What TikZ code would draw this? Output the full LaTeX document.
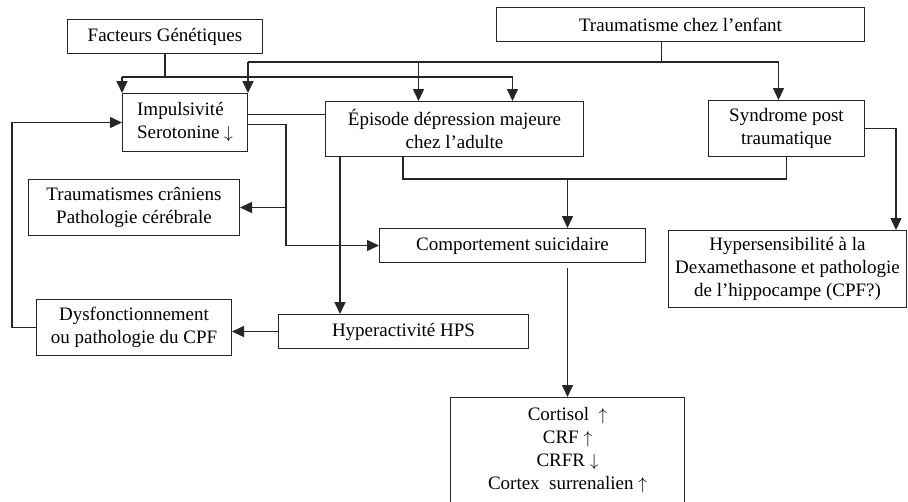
\documentclass[tikz,border=0pt]{standalone}
\usepackage{fontspec}
\setmainfont{Liberation Serif}
\usetikzlibrary{arrows.meta,calc}

\begin{document}
\begin{tikzpicture}[x=1pt,y=-1pt,
		boite/.style={draw=black!85, line width=1pt, anchor=north west, align=center, inner sep=0pt, font=\fontsize{19}{23}\selectfont},
		fleche/.style={draw=black!85, line width=1.5pt, -{Triangle[length=12pt,width=11pt]}},
		trait/.style={draw=black!85, line width=1.5pt}]
			\useasboundingbox (0,0) rectangle (908,501);
			\clip (0,0) rectangle (908,501);
			\node[boite, minimum width=195pt, minimum height=34pt] (facteurs) at (67,19) {Facteurs Génétiques};
			\node[boite, minimum width=368pt, minimum height=34pt] (trauma) at (496,7) {Traumatisme chez l’enfant};
			\node[boite, minimum width=125pt, minimum height=58pt, align=left] (impuls) at (122,93) {Impulsivité\\Serotonine $\downarrow$};
			\node[boite, minimum width=258pt, minimum height=55pt] (episode) at (325,101) {Épisode dépression majeure\\chez l’adulte};
			\node[boite, minimum width=156pt, minimum height=56pt] (syndrome) at (708,100) {Syndrome post\\traumatique};
			\node[boite, minimum width=211pt, minimum height=56pt] (cranien) at (28,179) {Traumatismes crâniens\\Pathologie cérébrale};
			\node[boite, minimum width=266pt, minimum height=34pt] (comport) at (379,228) {Comportement suicidaire};
			\node[boite, minimum width=238pt, minimum height=77pt] (hypersens) at (668,230) {Hypersensibilité à la\\Dexamethasone et pathologie\\de l’hippocampe (CPF?)};
			\node[boite, minimum width=195pt, minimum height=56pt] (dysf) at (36,299) {Dysfonctionnement\\ou pathologie du CPF};
			\node[boite, minimum width=250pt, minimum height=34pt] (hyper) at (278,314) {Hyperactivité HPS};
			\node[boite, minimum width=234pt, minimum height=106pt] (bilan) at (450,397) {Cortisol \ $\uparrow$\\CRF $\uparrow$\\CRFR $\downarrow$\\Cortex \ surrenalien $\uparrow$};
			\coordinate (busT) at (0,62);
			\coordinate (busG) at (0,77);
			\coordinate (busC) at (0,179);
			\coordinate (tstem) at ($(trauma.south)+(-19,0)$);
			\coordinate (eT) at ($(episode.north)+(-36,0)$);
			\coordinate (e1) at ($(episode.south west)+(15,0)$);
			\coordinate (e2) at ($(episode.south west)+(78,0)$);
			\coordinate (v1) at (286,0);
			\draw[trait] (tstem) -- (tstem |- busT);
			\draw[fleche] (impuls.north east |- busT) -| ($(syndrome.north)+(-8,0)$);
			\draw[fleche] (impuls.north east |- busT) -- (impuls.north east);
			\draw[fleche] (eT |- busT) -- (eT);
			\draw[trait] (facteurs.south) -- (facteurs.south |- busG);
			\draw[fleche] (impuls.north west |- busG) -- (impuls.north west);
			\draw[fleche] (impuls.north west |- busG) -| ($(episode.north)+(58,0)$);
			\draw[trait] ([yshift=8pt]impuls.east) -- ([yshift=8pt]impuls.east -| episode.west);
			\draw[fleche] ([yshift=-2pt]impuls.east) -| (v1 |- comport.west) -- (comport.west);
			\draw[fleche] (v1 |- cranien.east) -- (cranien.east);
			\draw[fleche] (e1) -- (e1 |- hyper.north);
			\draw[trait] (e2) |- (syndrome.south |- busC) -- (syndrome.south);
			\draw[fleche] (bilan.north |- busC) -- (bilan.north |- comport.north);
			\draw[fleche] ([yshift=-5pt]bilan.north |- comport.south) -- (bilan.north);
			\draw[fleche] (syndrome.east) -| ($(hypersens.north east)+(-11,0)$);
			\draw[fleche] (hyper.west) -- (dysf.east |- hyper.west);
			\draw[fleche] (dysf.west) -- ++(-24,0) |- (impuls.west);
	\end{tikzpicture}
\end{document}
